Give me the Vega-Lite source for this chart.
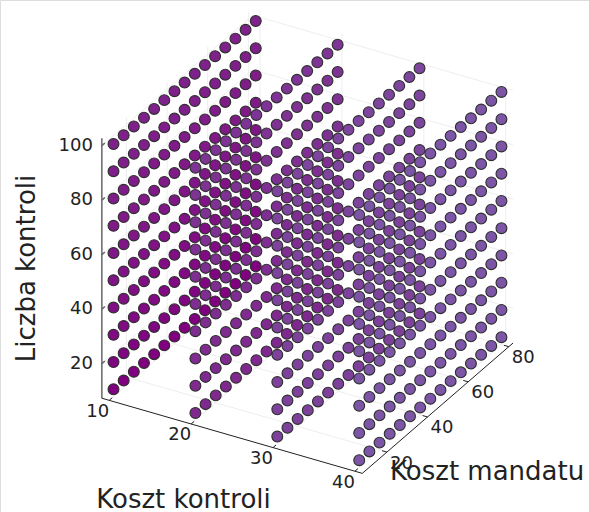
{"$schema":"https://vega.github.io/schema/vega-lite/v6.json","width":589,"height":512,"padding":0,"autosize":"none","background":"white",
"datasets":{
"lines":[
{"g":"grid","id":"a1","k":10,"m":7.9,"l":7.3},{"g":"grid","id":"a1","k":10,"m":82.1,"l":7.3},
{"g":"grid","id":"a2","k":20,"m":7.9,"l":7.3},{"g":"grid","id":"a2","k":20,"m":82.1,"l":7.3},
{"g":"grid","id":"a3","k":30,"m":7.9,"l":7.3},{"g":"grid","id":"a3","k":30,"m":82.1,"l":7.3},
{"g":"grid","id":"a4","k":40,"m":7.9,"l":7.3},{"g":"grid","id":"a4","k":40,"m":82.1,"l":7.3},
{"g":"grid","id":"b1","k":9.1,"m":20,"l":7.3},{"g":"grid","id":"b1","k":40.9,"m":20,"l":7.3},
{"g":"grid","id":"b2","k":9.1,"m":40,"l":7.3},{"g":"grid","id":"b2","k":40.9,"m":40,"l":7.3},
{"g":"grid","id":"b3","k":9.1,"m":60,"l":7.3},{"g":"grid","id":"b3","k":40.9,"m":60,"l":7.3},
{"g":"grid","id":"b4","k":9.1,"m":80,"l":7.3},{"g":"grid","id":"b4","k":40.9,"m":80,"l":7.3},
{"g":"grid","id":"c1","k":10,"m":82.1,"l":7.3},{"g":"grid","id":"c1","k":10,"m":82.1,"l":102.7},
{"g":"grid","id":"c2","k":20,"m":82.1,"l":7.3},{"g":"grid","id":"c2","k":20,"m":82.1,"l":102.7},
{"g":"grid","id":"c3","k":30,"m":82.1,"l":7.3},{"g":"grid","id":"c3","k":30,"m":82.1,"l":102.7},
{"g":"grid","id":"c4","k":40,"m":82.1,"l":7.3},{"g":"grid","id":"c4","k":40,"m":82.1,"l":102.7},
{"g":"grid","id":"d1","k":9.1,"m":82.1,"l":20},{"g":"grid","id":"d1","k":40.9,"m":82.1,"l":20},
{"g":"grid","id":"d2","k":9.1,"m":82.1,"l":40},{"g":"grid","id":"d2","k":40.9,"m":82.1,"l":40},
{"g":"grid","id":"d3","k":9.1,"m":82.1,"l":60},{"g":"grid","id":"d3","k":40.9,"m":82.1,"l":60},
{"g":"grid","id":"d4","k":9.1,"m":82.1,"l":80},{"g":"grid","id":"d4","k":40.9,"m":82.1,"l":80},
{"g":"grid","id":"d5","k":9.1,"m":82.1,"l":100},{"g":"grid","id":"d5","k":40.9,"m":82.1,"l":100},
{"g":"grid","id":"e1","k":9.1,"m":20,"l":7.3},{"g":"grid","id":"e1","k":9.1,"m":20,"l":102.7},
{"g":"grid","id":"e2","k":9.1,"m":40,"l":7.3},{"g":"grid","id":"e2","k":9.1,"m":40,"l":102.7},
{"g":"grid","id":"e3","k":9.1,"m":60,"l":7.3},{"g":"grid","id":"e3","k":9.1,"m":60,"l":102.7},
{"g":"grid","id":"e4","k":9.1,"m":80,"l":7.3},{"g":"grid","id":"e4","k":9.1,"m":80,"l":102.7},
{"g":"grid","id":"f1","k":9.1,"m":7.9,"l":20},{"g":"grid","id":"f1","k":9.1,"m":82.1,"l":20},
{"g":"grid","id":"f2","k":9.1,"m":7.9,"l":40},{"g":"grid","id":"f2","k":9.1,"m":82.1,"l":40},
{"g":"grid","id":"f3","k":9.1,"m":7.9,"l":60},{"g":"grid","id":"f3","k":9.1,"m":82.1,"l":60},
{"g":"grid","id":"f4","k":9.1,"m":7.9,"l":80},{"g":"grid","id":"f4","k":9.1,"m":82.1,"l":80},
{"g":"grid","id":"f5","k":9.1,"m":7.9,"l":100},{"g":"grid","id":"f5","k":9.1,"m":82.1,"l":100},
{"g":"yaxis","id":"y","k":9.1,"m":7.9,"l":7.3},{"g":"yaxis","id":"y","k":9.1,"m":7.9,"l":102.7},
{"g":"yaxis","id":"yt1","k":9.1,"m":7.9,"l":20},{"g":"yaxis","id":"yt1","k":9.1,"m":9.4,"l":20},
{"g":"yaxis","id":"yt2","k":9.1,"m":7.9,"l":40},{"g":"yaxis","id":"yt2","k":9.1,"m":9.4,"l":40},
{"g":"yaxis","id":"yt3","k":9.1,"m":7.9,"l":60},{"g":"yaxis","id":"yt3","k":9.1,"m":9.4,"l":60},
{"g":"yaxis","id":"yt4","k":9.1,"m":7.9,"l":80},{"g":"yaxis","id":"yt4","k":9.1,"m":9.4,"l":80},
{"g":"yaxis","id":"yt5","k":9.1,"m":7.9,"l":100},{"g":"yaxis","id":"yt5","k":9.1,"m":9.4,"l":100},
{"g":"axis","id":"x","k":9.1,"m":7.9,"l":7.3},{"g":"axis","id":"x","k":40.9,"m":7.9,"l":7.3},
{"g":"axis","id":"z","k":40.9,"m":7.9,"l":7.3},{"g":"axis","id":"z","k":40.9,"m":82.1,"l":7.3},
{"g":"axis","id":"xt1","k":10,"m":7.9,"l":7.3},{"g":"axis","id":"xt1","k":10,"m":9.4,"l":7.3},
{"g":"axis","id":"xt2","k":20,"m":7.9,"l":7.3},{"g":"axis","id":"xt2","k":20,"m":9.4,"l":7.3},
{"g":"axis","id":"xt3","k":30,"m":7.9,"l":7.3},{"g":"axis","id":"xt3","k":30,"m":9.4,"l":7.3},
{"g":"axis","id":"xt4","k":40,"m":7.9,"l":7.3},{"g":"axis","id":"xt4","k":40,"m":9.4,"l":7.3},
{"g":"axis","id":"zt1","k":40.9,"m":20,"l":7.3},{"g":"axis","id":"zt1","k":40.3,"m":20,"l":7.3},
{"g":"axis","id":"zt2","k":40.9,"m":40,"l":7.3},{"g":"axis","id":"zt2","k":40.3,"m":40,"l":7.3},
{"g":"axis","id":"zt3","k":40.9,"m":60,"l":7.3},{"g":"axis","id":"zt3","k":40.3,"m":60,"l":7.3},
{"g":"axis","id":"zt4","k":40.9,"m":80,"l":7.3},{"g":"axis","id":"zt4","k":40.3,"m":80,"l":7.3}
],
"ticks":[
{"a":"l","k":9.1,"m":7.9,"l":20,"t":"20"},{"a":"l","k":9.1,"m":7.9,"l":40,"t":"40"},{"a":"l","k":9.1,"m":7.9,"l":60,"t":"60"},{"a":"l","k":9.1,"m":7.9,"l":80,"t":"80"},{"a":"l","k":9.1,"m":7.9,"l":100,"t":"100"},
{"a":"k","k":10,"m":7.9,"l":7.3,"t":"10"},{"a":"k","k":20,"m":7.9,"l":7.3,"t":"20"},{"a":"k","k":30,"m":7.9,"l":7.3,"t":"30"},{"a":"k","k":40,"m":7.9,"l":7.3,"t":"40"},
{"a":"m","k":40.9,"m":20,"l":7.3,"t":"20"},{"a":"m","k":40.9,"m":40,"l":7.3,"t":"40"},{"a":"m","k":40.9,"m":60,"l":7.3,"t":"60"},{"a":"m","k":40.9,"m":80,"l":7.3,"t":"80"}
],
"pts":[
{"k":40,"m":10,"l":10},{"k":40,"m":10,"l":20},{"k":40,"m":10,"l":30},{"k":40,"m":10,"l":40},{"k":40,"m":10,"l":50},{"k":40,"m":10,"l":60},{"k":40,"m":10,"l":70},{"k":40,"m":10,"l":80},{"k":40,"m":10,"l":90},{"k":40,"m":10,"l":100},
{"k":40,"m":15,"l":10},{"k":40,"m":15,"l":20},{"k":40,"m":15,"l":30},{"k":40,"m":15,"l":40},{"k":40,"m":15,"l":50},{"k":40,"m":15,"l":60},{"k":40,"m":15,"l":70},{"k":40,"m":15,"l":80},{"k":40,"m":15,"l":90},{"k":40,"m":15,"l":100},
{"k":40,"m":20,"l":10},{"k":40,"m":20,"l":20},{"k":40,"m":20,"l":30},{"k":40,"m":20,"l":40},{"k":40,"m":20,"l":50},{"k":40,"m":20,"l":60},{"k":40,"m":20,"l":70},{"k":40,"m":20,"l":80},{"k":40,"m":20,"l":90},{"k":40,"m":20,"l":100},
{"k":40,"m":25,"l":10},{"k":40,"m":25,"l":20},{"k":40,"m":25,"l":30},{"k":40,"m":25,"l":40},{"k":40,"m":25,"l":50},{"k":40,"m":25,"l":60},{"k":40,"m":25,"l":70},{"k":40,"m":25,"l":80},{"k":40,"m":25,"l":90},{"k":40,"m":25,"l":100},
{"k":40,"m":30,"l":10},{"k":40,"m":30,"l":20},{"k":40,"m":30,"l":30},{"k":40,"m":30,"l":40},{"k":40,"m":30,"l":50},{"k":40,"m":30,"l":60},{"k":40,"m":30,"l":70},{"k":40,"m":30,"l":80},{"k":40,"m":30,"l":90},{"k":40,"m":30,"l":100},
{"k":40,"m":35,"l":10},{"k":40,"m":35,"l":20},{"k":40,"m":35,"l":30},{"k":40,"m":35,"l":40},{"k":40,"m":35,"l":50},{"k":40,"m":35,"l":60},{"k":40,"m":35,"l":70},{"k":40,"m":35,"l":80},{"k":40,"m":35,"l":90},{"k":40,"m":35,"l":100},
{"k":40,"m":40,"l":10},{"k":40,"m":40,"l":20},{"k":40,"m":40,"l":30},{"k":40,"m":40,"l":40},{"k":40,"m":40,"l":50},{"k":40,"m":40,"l":60},{"k":40,"m":40,"l":70},{"k":40,"m":40,"l":80},{"k":40,"m":40,"l":90},{"k":40,"m":40,"l":100},
{"k":40,"m":45,"l":10},{"k":40,"m":45,"l":20},{"k":40,"m":45,"l":30},{"k":40,"m":45,"l":40},{"k":40,"m":45,"l":50},{"k":40,"m":45,"l":60},{"k":40,"m":45,"l":70},{"k":40,"m":45,"l":80},{"k":40,"m":45,"l":90},{"k":40,"m":45,"l":100},
{"k":40,"m":50,"l":10},{"k":40,"m":50,"l":20},{"k":40,"m":50,"l":30},{"k":40,"m":50,"l":40},{"k":40,"m":50,"l":50},{"k":40,"m":50,"l":60},{"k":40,"m":50,"l":70},{"k":40,"m":50,"l":80},{"k":40,"m":50,"l":90},{"k":40,"m":50,"l":100},
{"k":40,"m":55,"l":10},{"k":40,"m":55,"l":20},{"k":40,"m":55,"l":30},{"k":40,"m":55,"l":40},{"k":40,"m":55,"l":50},{"k":40,"m":55,"l":60},{"k":40,"m":55,"l":70},{"k":40,"m":55,"l":80},{"k":40,"m":55,"l":90},{"k":40,"m":55,"l":100},
{"k":40,"m":60,"l":10},{"k":40,"m":60,"l":20},{"k":40,"m":60,"l":30},{"k":40,"m":60,"l":40},{"k":40,"m":60,"l":50},{"k":40,"m":60,"l":60},{"k":40,"m":60,"l":70},{"k":40,"m":60,"l":80},{"k":40,"m":60,"l":90},{"k":40,"m":60,"l":100},
{"k":40,"m":65,"l":10},{"k":40,"m":65,"l":20},{"k":40,"m":65,"l":30},{"k":40,"m":65,"l":40},{"k":40,"m":65,"l":50},{"k":40,"m":65,"l":60},{"k":40,"m":65,"l":70},{"k":40,"m":65,"l":80},{"k":40,"m":65,"l":90},{"k":40,"m":65,"l":100},
{"k":40,"m":70,"l":10},{"k":40,"m":70,"l":20},{"k":40,"m":70,"l":30},{"k":40,"m":70,"l":40},{"k":40,"m":70,"l":50},{"k":40,"m":70,"l":60},{"k":40,"m":70,"l":70},{"k":40,"m":70,"l":80},{"k":40,"m":70,"l":90},{"k":40,"m":70,"l":100},
{"k":40,"m":75,"l":10},{"k":40,"m":75,"l":20},{"k":40,"m":75,"l":30},{"k":40,"m":75,"l":40},{"k":40,"m":75,"l":50},{"k":40,"m":75,"l":60},{"k":40,"m":75,"l":70},{"k":40,"m":75,"l":80},{"k":40,"m":75,"l":90},{"k":40,"m":75,"l":100},
{"k":40,"m":80,"l":10},{"k":40,"m":80,"l":20},{"k":40,"m":80,"l":30},{"k":40,"m":80,"l":40},{"k":40,"m":80,"l":50},{"k":40,"m":80,"l":60},{"k":40,"m":80,"l":70},{"k":40,"m":80,"l":80},{"k":40,"m":80,"l":90},{"k":40,"m":80,"l":100},
{"k":30,"m":10,"l":10},{"k":30,"m":10,"l":20},{"k":30,"m":10,"l":30},{"k":30,"m":10,"l":40},{"k":30,"m":10,"l":50},{"k":30,"m":10,"l":60},{"k":30,"m":10,"l":70},{"k":30,"m":10,"l":80},{"k":30,"m":10,"l":90},{"k":30,"m":10,"l":100},
{"k":30,"m":15,"l":10},{"k":30,"m":15,"l":20},{"k":30,"m":15,"l":30},{"k":30,"m":15,"l":40},{"k":30,"m":15,"l":50},{"k":30,"m":15,"l":60},{"k":30,"m":15,"l":70},{"k":30,"m":15,"l":80},{"k":30,"m":15,"l":90},{"k":30,"m":15,"l":100},
{"k":30,"m":20,"l":10},{"k":30,"m":20,"l":20},{"k":30,"m":20,"l":30},{"k":30,"m":20,"l":40},{"k":30,"m":20,"l":50},{"k":30,"m":20,"l":60},{"k":30,"m":20,"l":70},{"k":30,"m":20,"l":80},{"k":30,"m":20,"l":90},{"k":30,"m":20,"l":100},
{"k":30,"m":25,"l":10},{"k":30,"m":25,"l":20},{"k":30,"m":25,"l":30},{"k":30,"m":25,"l":40},{"k":30,"m":25,"l":50},{"k":30,"m":25,"l":60},{"k":30,"m":25,"l":70},{"k":30,"m":25,"l":80},{"k":30,"m":25,"l":90},{"k":30,"m":25,"l":100},
{"k":30,"m":30,"l":10},{"k":30,"m":30,"l":20},{"k":30,"m":30,"l":30},{"k":30,"m":30,"l":40},{"k":30,"m":30,"l":50},{"k":30,"m":30,"l":60},{"k":30,"m":30,"l":70},{"k":30,"m":30,"l":80},{"k":30,"m":30,"l":90},{"k":30,"m":30,"l":100},
{"k":30,"m":35,"l":10},{"k":30,"m":35,"l":20},{"k":30,"m":35,"l":30},{"k":30,"m":35,"l":40},{"k":30,"m":35,"l":50},{"k":30,"m":35,"l":60},{"k":30,"m":35,"l":70},{"k":30,"m":35,"l":80},{"k":30,"m":35,"l":90},{"k":30,"m":35,"l":100},
{"k":30,"m":40,"l":10},{"k":30,"m":40,"l":20},{"k":30,"m":40,"l":30},{"k":30,"m":40,"l":40},{"k":30,"m":40,"l":50},{"k":30,"m":40,"l":60},{"k":30,"m":40,"l":70},{"k":30,"m":40,"l":80},{"k":30,"m":40,"l":90},{"k":30,"m":40,"l":100},
{"k":30,"m":45,"l":10},{"k":30,"m":45,"l":20},{"k":30,"m":45,"l":30},{"k":30,"m":45,"l":40},{"k":30,"m":45,"l":50},{"k":30,"m":45,"l":60},{"k":30,"m":45,"l":70},{"k":30,"m":45,"l":80},{"k":30,"m":45,"l":90},{"k":30,"m":45,"l":100},
{"k":30,"m":50,"l":10},{"k":30,"m":50,"l":20},{"k":30,"m":50,"l":30},{"k":30,"m":50,"l":40},{"k":30,"m":50,"l":50},{"k":30,"m":50,"l":60},{"k":30,"m":50,"l":70},{"k":30,"m":50,"l":80},{"k":30,"m":50,"l":90},{"k":30,"m":50,"l":100},
{"k":30,"m":55,"l":10},{"k":30,"m":55,"l":20},{"k":30,"m":55,"l":30},{"k":30,"m":55,"l":40},{"k":30,"m":55,"l":50},{"k":30,"m":55,"l":60},{"k":30,"m":55,"l":70},{"k":30,"m":55,"l":80},{"k":30,"m":55,"l":90},{"k":30,"m":55,"l":100},
{"k":30,"m":60,"l":10},{"k":30,"m":60,"l":20},{"k":30,"m":60,"l":30},{"k":30,"m":60,"l":40},{"k":30,"m":60,"l":50},{"k":30,"m":60,"l":60},{"k":30,"m":60,"l":70},{"k":30,"m":60,"l":80},{"k":30,"m":60,"l":90},{"k":30,"m":60,"l":100},
{"k":30,"m":65,"l":10},{"k":30,"m":65,"l":20},{"k":30,"m":65,"l":30},{"k":30,"m":65,"l":40},{"k":30,"m":65,"l":50},{"k":30,"m":65,"l":60},{"k":30,"m":65,"l":70},{"k":30,"m":65,"l":80},{"k":30,"m":65,"l":90},{"k":30,"m":65,"l":100},
{"k":30,"m":70,"l":10},{"k":30,"m":70,"l":20},{"k":30,"m":70,"l":30},{"k":30,"m":70,"l":40},{"k":30,"m":70,"l":50},{"k":30,"m":70,"l":60},{"k":30,"m":70,"l":70},{"k":30,"m":70,"l":80},{"k":30,"m":70,"l":90},{"k":30,"m":70,"l":100},
{"k":30,"m":75,"l":10},{"k":30,"m":75,"l":20},{"k":30,"m":75,"l":30},{"k":30,"m":75,"l":40},{"k":30,"m":75,"l":50},{"k":30,"m":75,"l":60},{"k":30,"m":75,"l":70},{"k":30,"m":75,"l":80},{"k":30,"m":75,"l":90},{"k":30,"m":75,"l":100},
{"k":30,"m":80,"l":10},{"k":30,"m":80,"l":20},{"k":30,"m":80,"l":30},{"k":30,"m":80,"l":40},{"k":30,"m":80,"l":50},{"k":30,"m":80,"l":60},{"k":30,"m":80,"l":70},{"k":30,"m":80,"l":80},{"k":30,"m":80,"l":90},{"k":30,"m":80,"l":100},
{"k":20,"m":10,"l":10},{"k":20,"m":10,"l":20},{"k":20,"m":10,"l":30},{"k":20,"m":10,"l":40},{"k":20,"m":10,"l":50},{"k":20,"m":10,"l":60},{"k":20,"m":10,"l":70},{"k":20,"m":10,"l":80},{"k":20,"m":10,"l":90},{"k":20,"m":10,"l":100},
{"k":20,"m":15,"l":10},{"k":20,"m":15,"l":20},{"k":20,"m":15,"l":30},{"k":20,"m":15,"l":40},{"k":20,"m":15,"l":50},{"k":20,"m":15,"l":60},{"k":20,"m":15,"l":70},{"k":20,"m":15,"l":80},{"k":20,"m":15,"l":90},{"k":20,"m":15,"l":100},
{"k":20,"m":20,"l":10},{"k":20,"m":20,"l":20},{"k":20,"m":20,"l":30},{"k":20,"m":20,"l":40},{"k":20,"m":20,"l":50},{"k":20,"m":20,"l":60},{"k":20,"m":20,"l":70},{"k":20,"m":20,"l":80},{"k":20,"m":20,"l":90},{"k":20,"m":20,"l":100},
{"k":20,"m":25,"l":10},{"k":20,"m":25,"l":20},{"k":20,"m":25,"l":30},{"k":20,"m":25,"l":40},{"k":20,"m":25,"l":50},{"k":20,"m":25,"l":60},{"k":20,"m":25,"l":70},{"k":20,"m":25,"l":80},{"k":20,"m":25,"l":90},{"k":20,"m":25,"l":100},
{"k":20,"m":30,"l":10},{"k":20,"m":30,"l":20},{"k":20,"m":30,"l":30},{"k":20,"m":30,"l":40},{"k":20,"m":30,"l":50},{"k":20,"m":30,"l":60},{"k":20,"m":30,"l":70},{"k":20,"m":30,"l":80},{"k":20,"m":30,"l":90},{"k":20,"m":30,"l":100},
{"k":20,"m":35,"l":10},{"k":20,"m":35,"l":20},{"k":20,"m":35,"l":30},{"k":20,"m":35,"l":40},{"k":20,"m":35,"l":50},{"k":20,"m":35,"l":60},{"k":20,"m":35,"l":70},{"k":20,"m":35,"l":80},{"k":20,"m":35,"l":90},{"k":20,"m":35,"l":100},
{"k":20,"m":40,"l":10},{"k":20,"m":40,"l":20},{"k":20,"m":40,"l":30},{"k":20,"m":40,"l":40},{"k":20,"m":40,"l":50},{"k":20,"m":40,"l":60},{"k":20,"m":40,"l":70},{"k":20,"m":40,"l":80},{"k":20,"m":40,"l":90},{"k":20,"m":40,"l":100},
{"k":20,"m":45,"l":10},{"k":20,"m":45,"l":20},{"k":20,"m":45,"l":30},{"k":20,"m":45,"l":40},{"k":20,"m":45,"l":50},{"k":20,"m":45,"l":60},{"k":20,"m":45,"l":70},{"k":20,"m":45,"l":80},{"k":20,"m":45,"l":90},{"k":20,"m":45,"l":100},
{"k":20,"m":50,"l":10},{"k":20,"m":50,"l":20},{"k":20,"m":50,"l":30},{"k":20,"m":50,"l":40},{"k":20,"m":50,"l":50},{"k":20,"m":50,"l":60},{"k":20,"m":50,"l":70},{"k":20,"m":50,"l":80},{"k":20,"m":50,"l":90},{"k":20,"m":50,"l":100},
{"k":20,"m":55,"l":10},{"k":20,"m":55,"l":20},{"k":20,"m":55,"l":30},{"k":20,"m":55,"l":40},{"k":20,"m":55,"l":50},{"k":20,"m":55,"l":60},{"k":20,"m":55,"l":70},{"k":20,"m":55,"l":80},{"k":20,"m":55,"l":90},{"k":20,"m":55,"l":100},
{"k":20,"m":60,"l":10},{"k":20,"m":60,"l":20},{"k":20,"m":60,"l":30},{"k":20,"m":60,"l":40},{"k":20,"m":60,"l":50},{"k":20,"m":60,"l":60},{"k":20,"m":60,"l":70},{"k":20,"m":60,"l":80},{"k":20,"m":60,"l":90},{"k":20,"m":60,"l":100},
{"k":20,"m":65,"l":10},{"k":20,"m":65,"l":20},{"k":20,"m":65,"l":30},{"k":20,"m":65,"l":40},{"k":20,"m":65,"l":50},{"k":20,"m":65,"l":60},{"k":20,"m":65,"l":70},{"k":20,"m":65,"l":80},{"k":20,"m":65,"l":90},{"k":20,"m":65,"l":100},
{"k":20,"m":70,"l":10},{"k":20,"m":70,"l":20},{"k":20,"m":70,"l":30},{"k":20,"m":70,"l":40},{"k":20,"m":70,"l":50},{"k":20,"m":70,"l":60},{"k":20,"m":70,"l":70},{"k":20,"m":70,"l":80},{"k":20,"m":70,"l":90},{"k":20,"m":70,"l":100},
{"k":20,"m":75,"l":10},{"k":20,"m":75,"l":20},{"k":20,"m":75,"l":30},{"k":20,"m":75,"l":40},{"k":20,"m":75,"l":50},{"k":20,"m":75,"l":60},{"k":20,"m":75,"l":70},{"k":20,"m":75,"l":80},{"k":20,"m":75,"l":90},{"k":20,"m":75,"l":100},
{"k":20,"m":80,"l":10},{"k":20,"m":80,"l":20},{"k":20,"m":80,"l":30},{"k":20,"m":80,"l":40},{"k":20,"m":80,"l":50},{"k":20,"m":80,"l":60},{"k":20,"m":80,"l":70},{"k":20,"m":80,"l":80},{"k":20,"m":80,"l":90},{"k":20,"m":80,"l":100},
{"k":10,"m":10,"l":10},{"k":10,"m":10,"l":20},{"k":10,"m":10,"l":30},{"k":10,"m":10,"l":40},{"k":10,"m":10,"l":50},{"k":10,"m":10,"l":60},{"k":10,"m":10,"l":70},{"k":10,"m":10,"l":80},{"k":10,"m":10,"l":90},{"k":10,"m":10,"l":100},
{"k":10,"m":15,"l":10},{"k":10,"m":15,"l":20},{"k":10,"m":15,"l":30},{"k":10,"m":15,"l":40},{"k":10,"m":15,"l":50},{"k":10,"m":15,"l":60},{"k":10,"m":15,"l":70},{"k":10,"m":15,"l":80},{"k":10,"m":15,"l":90},{"k":10,"m":15,"l":100},
{"k":10,"m":20,"l":10},{"k":10,"m":20,"l":20},{"k":10,"m":20,"l":30},{"k":10,"m":20,"l":40},{"k":10,"m":20,"l":50},{"k":10,"m":20,"l":60},{"k":10,"m":20,"l":70},{"k":10,"m":20,"l":80},{"k":10,"m":20,"l":90},{"k":10,"m":20,"l":100},
{"k":10,"m":25,"l":10},{"k":10,"m":25,"l":20},{"k":10,"m":25,"l":30},{"k":10,"m":25,"l":40},{"k":10,"m":25,"l":50},{"k":10,"m":25,"l":60},{"k":10,"m":25,"l":70},{"k":10,"m":25,"l":80},{"k":10,"m":25,"l":90},{"k":10,"m":25,"l":100},
{"k":10,"m":30,"l":10},{"k":10,"m":30,"l":20},{"k":10,"m":30,"l":30},{"k":10,"m":30,"l":40},{"k":10,"m":30,"l":50},{"k":10,"m":30,"l":60},{"k":10,"m":30,"l":70},{"k":10,"m":30,"l":80},{"k":10,"m":30,"l":90},{"k":10,"m":30,"l":100},
{"k":10,"m":35,"l":10},{"k":10,"m":35,"l":20},{"k":10,"m":35,"l":30},{"k":10,"m":35,"l":40},{"k":10,"m":35,"l":50},{"k":10,"m":35,"l":60},{"k":10,"m":35,"l":70},{"k":10,"m":35,"l":80},{"k":10,"m":35,"l":90},{"k":10,"m":35,"l":100},
{"k":10,"m":40,"l":10},{"k":10,"m":40,"l":20},{"k":10,"m":40,"l":30},{"k":10,"m":40,"l":40},{"k":10,"m":40,"l":50},{"k":10,"m":40,"l":60},{"k":10,"m":40,"l":70},{"k":10,"m":40,"l":80},{"k":10,"m":40,"l":90},{"k":10,"m":40,"l":100},
{"k":10,"m":45,"l":10},{"k":10,"m":45,"l":20},{"k":10,"m":45,"l":30},{"k":10,"m":45,"l":40},{"k":10,"m":45,"l":50},{"k":10,"m":45,"l":60},{"k":10,"m":45,"l":70},{"k":10,"m":45,"l":80},{"k":10,"m":45,"l":90},{"k":10,"m":45,"l":100},
{"k":10,"m":50,"l":10},{"k":10,"m":50,"l":20},{"k":10,"m":50,"l":30},{"k":10,"m":50,"l":40},{"k":10,"m":50,"l":50},{"k":10,"m":50,"l":60},{"k":10,"m":50,"l":70},{"k":10,"m":50,"l":80},{"k":10,"m":50,"l":90},{"k":10,"m":50,"l":100},
{"k":10,"m":55,"l":10},{"k":10,"m":55,"l":20},{"k":10,"m":55,"l":30},{"k":10,"m":55,"l":40},{"k":10,"m":55,"l":50},{"k":10,"m":55,"l":60},{"k":10,"m":55,"l":70},{"k":10,"m":55,"l":80},{"k":10,"m":55,"l":90},{"k":10,"m":55,"l":100},
{"k":10,"m":60,"l":10},{"k":10,"m":60,"l":20},{"k":10,"m":60,"l":30},{"k":10,"m":60,"l":40},{"k":10,"m":60,"l":50},{"k":10,"m":60,"l":60},{"k":10,"m":60,"l":70},{"k":10,"m":60,"l":80},{"k":10,"m":60,"l":90},{"k":10,"m":60,"l":100},
{"k":10,"m":65,"l":10},{"k":10,"m":65,"l":20},{"k":10,"m":65,"l":30},{"k":10,"m":65,"l":40},{"k":10,"m":65,"l":50},{"k":10,"m":65,"l":60},{"k":10,"m":65,"l":70},{"k":10,"m":65,"l":80},{"k":10,"m":65,"l":90},{"k":10,"m":65,"l":100},
{"k":10,"m":70,"l":10},{"k":10,"m":70,"l":20},{"k":10,"m":70,"l":30},{"k":10,"m":70,"l":40},{"k":10,"m":70,"l":50},{"k":10,"m":70,"l":60},{"k":10,"m":70,"l":70},{"k":10,"m":70,"l":80},{"k":10,"m":70,"l":90},{"k":10,"m":70,"l":100},
{"k":10,"m":75,"l":10},{"k":10,"m":75,"l":20},{"k":10,"m":75,"l":30},{"k":10,"m":75,"l":40},{"k":10,"m":75,"l":50},{"k":10,"m":75,"l":60},{"k":10,"m":75,"l":70},{"k":10,"m":75,"l":80},{"k":10,"m":75,"l":90},{"k":10,"m":75,"l":100},
{"k":10,"m":80,"l":10},{"k":10,"m":80,"l":20},{"k":10,"m":80,"l":30},{"k":10,"m":80,"l":40},{"k":10,"m":80,"l":50},{"k":10,"m":80,"l":60},{"k":10,"m":80,"l":70},{"k":10,"m":80,"l":80},{"k":10,"m":80,"l":90},{"k":10,"m":80,"l":100}
],
"zlabel":[{"k":40.9,"m":7.9,"l":7.3,"t":"Koszt mandatu"}]
},
"encoding":{
"x":{"field":"sx","type":"quantitative","scale":{"domain":[0,589],"nice":false,"zero":false},"axis":{"title":"Koszt kontroli","domain":false,"ticks":false,"labels":false,"grid":false,"titleX":183,"titleY":-5,"titleFont":"DejaVu Sans","titleFontSize":26,"titleFontWeight":"normal","titleColor":"#222","titleAlign":"center","titleBaseline":"alphabetic"}},
"y":{"field":"sy","type":"quantitative","scale":{"domain":[512,0],"nice":false,"zero":false},"axis":{"title":"Liczba kontroli","domain":false,"ticks":false,"labels":false,"grid":false,"titleX":26,"titleY":268,"titleAngle":-90,"titleFont":"DejaVu Sans","titleFontSize":26,"titleFontWeight":"normal","titleColor":"#222","titleAlign":"center","titleBaseline":"middle"}}
},
"layer":[
{"data":{"name":"lines"},"transform":[{"filter":"datum.g=='grid'"},{"calculate":"113.5+(datum.k-10)*8.19+(datum.m-10)*2.032","as":"sx"},{"calculate":"389.3+(datum.k-10)*2.363-(datum.m-10)*1.757-(datum.l-10)*2.725","as":"sy"}],
"mark":{"type":"line","color":"#eeeeee","strokeWidth":1},"encoding":{"detail":{"field":"id"}}},
{"data":{"name":"lines"},"transform":[{"filter":"datum.g=='yaxis'"},{"calculate":"113.5+(datum.k-10)*8.19+(datum.m-10)*2.032","as":"sx"},{"calculate":"389.3+(datum.k-10)*2.363-(datum.m-10)*1.757-(datum.l-10)*2.725","as":"sy"}],
"mark":{"type":"line","color":"#666666","strokeWidth":1.5},"encoding":{"detail":{"field":"id"}}},
{"data":{"name":"lines"},"transform":[{"filter":"datum.g=='axis'"},{"calculate":"113.5+(datum.k-10)*8.19+(datum.m-10)*2.032","as":"sx"},{"calculate":"389.3+(datum.k-10)*2.363-(datum.m-10)*1.757-(datum.l-10)*2.725","as":"sy"}],
"mark":{"type":"line","color":"#222222","strokeWidth":1},"encoding":{"detail":{"field":"id"}}},
{"data":{"name":"pts"},"transform":[{"calculate":"113.5+(datum.k-10)*8.19+(datum.m-10)*2.032","as":"sx"},{"calculate":"389.3+(datum.k-10)*2.363-(datum.m-10)*1.757-(datum.l-10)*2.725","as":"sy"},{"calculate":"pow((datum.k-10)/30,1.1)","as":"s"},{"calculate":"datum.s+(1-datum.s)*0.22*(datum.l-10)/90","as":"c"}],
"mark":{"type":"circle","size":118,"opacity":1,"stroke":"#2e2e2e","strokeWidth":1.1},
"encoding":{"color":{"field":"c","type":"quantitative","legend":null,"scale":{"domain":[0,1],"range":["#800080","#7c55a6"]}}}},
{"data":{"name":"ticks"},"transform":[{"filter":"datum.a=='l'"},{"calculate":"113.5+(datum.k-10)*8.19+(datum.m-10)*2.032","as":"sx"},{"calculate":"389.3+(datum.k-10)*2.363-(datum.m-10)*1.757-(datum.l-10)*2.725","as":"sy"}],
"mark":{"type":"text","align":"right","baseline":"middle","dx":-9,"font":"DejaVu Sans","fontSize":18,"color":"#222"},"encoding":{"text":{"field":"t"}}},
{"data":{"name":"ticks"},"transform":[{"filter":"datum.a=='k'"},{"calculate":"113.5+(datum.k-10)*8.19+(datum.m-10)*2.032","as":"sx"},{"calculate":"389.3+(datum.k-10)*2.363-(datum.m-10)*1.757-(datum.l-10)*2.725","as":"sy"}],
"mark":{"type":"text","align":"center","baseline":"middle","dx":-11.5,"dy":11.5,"font":"DejaVu Sans","fontSize":18,"color":"#222"},"encoding":{"text":{"field":"t"}}},
{"data":{"name":"ticks"},"transform":[{"filter":"datum.a=='m'"},{"calculate":"113.5+(datum.k-10)*8.19+(datum.m-10)*2.032","as":"sx"},{"calculate":"389.3+(datum.k-10)*2.363-(datum.m-10)*1.757-(datum.l-10)*2.725","as":"sy"}],
"mark":{"type":"text","align":"center","baseline":"middle","dx":14.5,"dy":11.5,"font":"DejaVu Sans","fontSize":18,"color":"#222"},"encoding":{"text":{"field":"t"}}},
{"data":{"name":"zlabel"},"transform":[{"calculate":"113.5+(datum.k-10)*8.19+(datum.m-10)*2.032","as":"sx"},{"calculate":"389.3+(datum.k-10)*2.363-(datum.m-10)*1.757-(datum.l-10)*2.725","as":"sy"}],
"mark":{"type":"text","align":"center","baseline":"alphabetic","dx":124.8,"dy":6.7,"font":"DejaVu Sans","fontSize":26,"color":"#222"},"encoding":{"text":{"field":"t"}}}
]
}
